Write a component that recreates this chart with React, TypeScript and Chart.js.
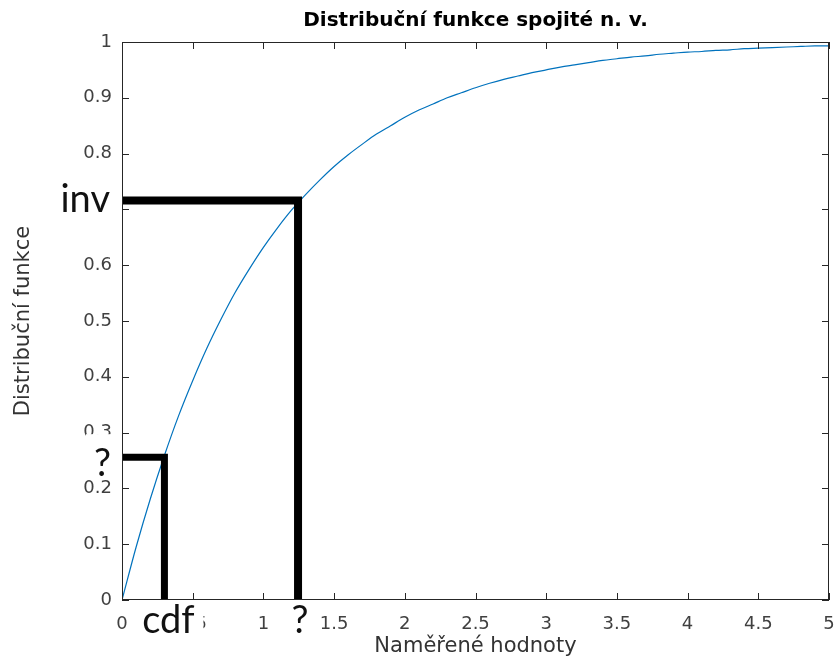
import React, { useEffect, useRef } from "react";
import { Chart, registerables } from "chart.js";

Chart.register(...registerables);

const TITLE = "Distribuční funkce spojité n. v.";
const X_TITLE = "Naměřené hodnoty";
const Y_TITLE = "Distribuční funkce";

const xValues = [
  0, 0.1, 0.2, 0.3, 0.4, 0.5, 0.6, 0.7, 0.8, 0.9,
  1.0, 1.1, 1.2, 1.3, 1.4, 1.5, 1.6, 1.7, 1.8, 1.9,
  2.0, 2.1, 2.2, 2.3, 2.4, 2.5, 2.6, 2.7, 2.8, 2.9,
  3.0, 3.1, 3.2, 3.3, 3.4, 3.5, 3.6, 3.7, 3.8, 3.9,
  4.0, 4.1, 4.2, 4.3, 4.4, 4.5, 4.6, 4.7, 4.8, 4.9, 5.0,
];
const cdfValues = [
  0, 0.095, 0.181, 0.259, 0.33, 0.393, 0.451, 0.503, 0.551, 0.593,
  0.632, 0.667, 0.699, 0.727, 0.753, 0.777, 0.798, 0.817, 0.835, 0.85,
  0.865, 0.878, 0.889, 0.9, 0.909, 0.918, 0.926, 0.933, 0.939, 0.945,
  0.95, 0.955, 0.959, 0.963, 0.967, 0.97, 0.973, 0.975, 0.978, 0.98,
  0.982, 0.983, 0.985, 0.986, 0.988, 0.989, 0.99, 0.991, 0.992, 0.993, 0.993,
];

const xTicks = [0, 0.5, 1, 1.5, 2, 2.5, 3, 3.5, 4, 4.5, 5];
const yTicks = [0, 0.1, 0.2, 0.3, 0.4, 0.5, 0.6, 0.7, 0.8, 0.9, 1];

// hand-drawn guide lines
const invGuideX = [0, 1.245, 1.245];
const invGuideY = [0.716, 0.716, 0];
const cdfGuideX = [0, 0.3, 0.3];
const cdfGuideY = [0.256, 0.256, 0];

const annotationTexts = ["inv", "?", "cdf", "?"];

const fmt = (v: number) => String(Math.round(v * 10) / 10);

const framePlugin = {
  id: "matlabFrame",
  afterDatasetsDraw(chart: any) {
    const { ctx, chartArea } = chart;
    const { left, right, top, bottom } = chartArea;
    const xs = chart.scales.x;
    const ys = chart.scales.y;
    ctx.save();
    ctx.strokeStyle = "#262626";
    ctx.lineWidth = 1;
    ctx.strokeRect(left + 0.5, top + 0.5, right - left - 1, bottom - top - 1);
    const tl = 7;
    ctx.beginPath();
    for (const v of xTicks) {
      const px = Math.round(xs.getPixelForValue(v)) + 0.5;
      ctx.moveTo(px, bottom);
      ctx.lineTo(px, bottom - tl);
      ctx.moveTo(px, top);
      ctx.lineTo(px, top + tl);
    }
    for (const v of yTicks) {
      const py = Math.round(ys.getPixelForValue(v)) + 0.5;
      ctx.moveTo(left, py);
      ctx.lineTo(left + tl, py);
      ctx.moveTo(right, py);
      ctx.lineTo(right - tl, py);
    }
    ctx.stroke();
    ctx.restore();
  },
  afterDraw(chart: any) {
    const { ctx, chartArea } = chart;
    const { left, right, top, bottom } = chartArea;
    const xs = chart.scales.x;
    const ys = chart.scales.y;
    ctx.save();
    // title
    ctx.fillStyle = "#000";
    ctx.font = "bold 20px 'DejaVu Sans'";
    ctx.textAlign = "center";
    ctx.textBaseline = "middle";
    ctx.fillText(TITLE, (left + right) / 2, top - 21);

    // annotations with white backgrounds
    ctx.font = "38px Lato";
    ctx.textBaseline = "alphabetic";

    const invY = ys.getPixelForValue(invGuideY[0]);
    ctx.fillStyle = "#fff";
    ctx.fillRect(left - 68, invY - 24, 64, 38);
    ctx.fillStyle = "#111";
    ctx.textAlign = "right";
    ctx.fillText(annotationTexts[0], left - 12, invY + 12);

    const cdfY = ys.getPixelForValue(cdfGuideY[0]);
    ctx.fillStyle = "#fff";
    ctx.fillRect(left - 36, cdfY - 23, 32, 43);
    ctx.fillStyle = "#111";
    ctx.fillText(annotationTexts[1], left - 11, cdfY + 19);

    const cdfX = xs.getPixelForValue(cdfGuideX[1]);
    ctx.fillStyle = "#fff";
    ctx.fillRect(cdfX - 27, bottom + 4, 66, 38);
    ctx.fillStyle = "#111";
    ctx.textAlign = "center";
    ctx.fillText(annotationTexts[2], cdfX + 4, bottom + 33);

    const invX = xs.getPixelForValue(invGuideX[1]);
    ctx.fillStyle = "#fff";
    ctx.fillRect(invX - 10, bottom + 4, 24, 38);
    ctx.fillStyle = "#111";
    ctx.fillText(annotationTexts[3], invX + 2, bottom + 33);
    ctx.restore();
  },
};

export default function App() {
  const ref = useRef<HTMLCanvasElement | null>(null);
  useEffect(() => {
    if (!ref.current) return;
    const curve = xValues.map((x, i) => ({ x, y: cdfValues[i] }));
    const inv = invGuideX.map((x, i) => ({ x, y: invGuideY[i] }));
    const cdf = cdfGuideX.map((x, i) => ({ x, y: cdfGuideY[i] }));
    const chart = new Chart(ref.current, {
      type: "line",
      data: {
        datasets: [
          {
            data: curve,
            borderColor: "#0072BD",
            borderWidth: 1.2,
            pointRadius: 0,
            fill: false,
            cubicInterpolationMode: "monotone",
            order: 2,
          },
          {
            data: inv,
            borderColor: "#000",
            borderWidth: 8,
            pointRadius: 0,
            borderCapStyle: "round",
            borderJoinStyle: "miter",
            fill: false,
            order: 1,
          },
          {
            data: cdf,
            borderColor: "#000",
            borderWidth: 7,
            pointRadius: 0,
            borderCapStyle: "round",
            borderJoinStyle: "miter",
            fill: false,
            order: 1,
          },
        ],
      },
      options: {
        responsive: false,
        animation: false,
        devicePixelRatio: 1,
        layout: { padding: { left: 0, right: 8, top: 42, bottom: 0 } },
        plugins: {
          legend: { display: false },
          tooltip: { enabled: false },
          title: { display: false },
        },
        scales: {
          x: {
            type: "linear",
            min: 0,
            max: 5,
            grid: { display: false, drawTicks: false },
            border: { display: false },
            afterBuildTicks: (s: any) => {
              s.ticks = xTicks.map((v) => ({ value: v }));
            },
            afterFit: (s: any) => {
              s.height = 69;
              s.paddingLeft = 0;
              s.paddingRight = 0;
            },
            ticks: {
              color: "#404040",
              font: { family: "'DejaVu Sans'", size: 18 },
              padding: 14,
              maxRotation: 0,
              autoSkip: false,
              callback: (v: any) => fmt(Number(v)),
            },
            title: {
              display: true,
              text: X_TITLE,
              color: "#333",
              font: { family: "'DejaVu Sans'", size: 21 },
              padding: { top: 0, bottom: 10 },
            },
          },
          y: {
            type: "linear",
            min: 0,
            max: 1,
            grid: { display: false, drawTicks: false },
            border: { display: false },
            afterBuildTicks: (s: any) => {
              s.ticks = yTicks.map((v) => ({ value: v }));
            },
            afterFit: (s: any) => {
              s.width = 122;
              s.paddingTop = 0;
              s.paddingBottom = 0;
            },
            ticks: {
              color: "#404040",
              font: { family: "'DejaVu Sans'", size: 18 },
              padding: 10,
              autoSkip: false,
              callback: (v: any) => fmt(Number(v)),
            },
            title: {
              display: true,
              text: Y_TITLE,
              color: "#333",
              font: { family: "'DejaVu Sans'", size: 21 },
              padding: { top: 11, bottom: 0 },
            },
          },
        },
      },
      plugins: [framePlugin],
    } as any);
    return () => chart.destroy();
  }, []);
  return (
    <div style={{ position: "absolute", left: 0, top: 0, width: 837, height: 669, background: "#fff" }}>
      <canvas ref={ref} width={837} height={669} style={{ width: 837, height: 669, display: "block" }} />
    </div>
  );
}
